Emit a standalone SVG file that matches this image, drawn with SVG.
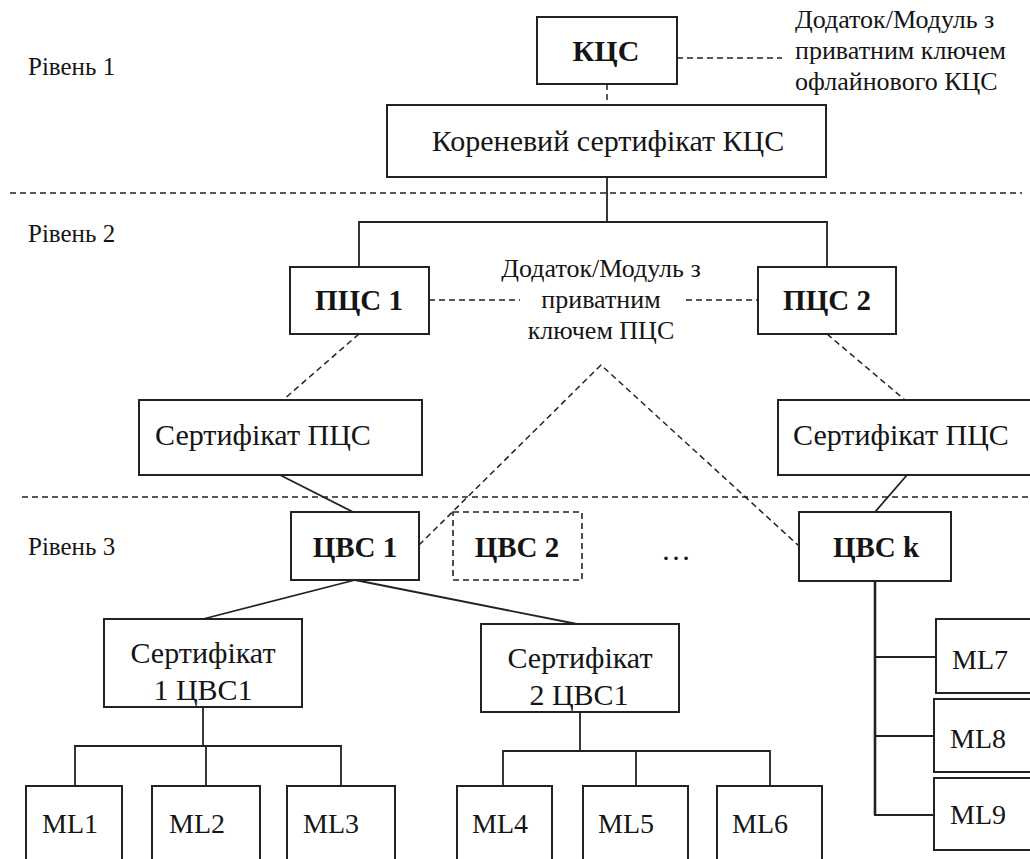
<svg xmlns="http://www.w3.org/2000/svg" width="1030" height="859" viewBox="0 0 1030 859">
<style>
  .box{fill:#fff;stroke:#222;stroke-width:2}
  .dbox{fill:#fff;stroke:#222;stroke-width:1.6;stroke-dasharray:6,4}
  .ln{fill:none;stroke:#222;stroke-width:1.8}
  .thick{fill:none;stroke:#222;stroke-width:2.6}
  .dl{fill:none;stroke:#222;stroke-width:1.5;stroke-dasharray:6,4}
  text{font-family:"Liberation Serif","Times New Roman",serif;fill:#151515}
  .t{font-size:30px}
  .b{font-size:29px;font-weight:bold;text-anchor:middle}
  .m{text-anchor:middle}
  .ann{font-size:26px}
  .lvl{font-size:25px}
  .ml{font-size:28px}
</style>
<rect width="1030" height="859" fill="#fff"/>
<g id="levels">
  <line class="dl" x1="10" y1="193" x2="1022" y2="193"/>
  <line class="dl" x1="22" y1="497" x2="1030" y2="497"/>
  <text class="lvl" x="28" y="75">Рівень 1</text>
  <text class="lvl" x="28" y="242">Рівень 2</text>
  <text class="lvl" x="28" y="555">Рівень 3</text>
</g>
<g id="connectors">
  <line class="dl" x1="677" y1="58" x2="782" y2="58"/>
  <line class="dl" x1="607" y1="84" x2="607" y2="105"/>
  <line class="ln" x1="607" y1="177" x2="607" y2="222"/>
  <polyline class="ln" points="359,267 359,222 827,222 827,267"/>
  <line class="dl" x1="429" y1="300" x2="520" y2="300"/>
  <line class="dl" x1="686" y1="300" x2="758" y2="300"/>
  <line class="dl" x1="359" y1="334" x2="283" y2="400"/>
  <line class="dl" x1="827" y1="334" x2="905" y2="400"/>
  <polyline class="dl" points="419,545 601,365 799,546"/>
  <line class="ln" x1="280" y1="475" x2="353" y2="512"/>
  <line class="ln" x1="907" y1="475" x2="875" y2="512"/>
  <line class="ln" x1="355" y1="580" x2="203" y2="619"/>
  <line class="ln" x1="355" y1="580" x2="577" y2="624"/>
  <line class="ln" x1="203" y1="707" x2="203" y2="746"/>
  <polyline class="ln" points="75,786 75,746 341,746 341,786"/>
  <line class="ln" x1="206" y1="746" x2="206" y2="786"/>
  <line class="ln" x1="580" y1="712" x2="580" y2="751"/>
  <polyline class="ln" points="503,786 503,751 770,751 770,786"/>
  <line class="ln" x1="636" y1="751" x2="636" y2="786"/>
  <line class="thick" x1="875" y1="581" x2="875" y2="815"/>
  <line class="ln" x1="875" y1="657" x2="936" y2="657"/>
  <line class="ln" x1="875" y1="736" x2="934" y2="736"/>
  <line class="ln" x1="874" y1="815" x2="934" y2="815"/>
</g>
<g id="kcs-annotation">
  <text class="ann" x="795" y="28">Додаток/Модуль з</text>
  <text class="ann" x="795" y="59">приватним ключем</text>
  <text class="ann" x="795" y="90">офлайнового КЦС</text>
</g>
<g id="pcs-annotation">
  <text class="ann m" x="601" y="277">Додаток/Модуль з</text>
  <text class="ann m" x="601" y="308">приватним</text>
  <text class="ann m" x="601" y="339">ключем ПЦС</text>
</g>
<g id="kcs"><rect class="box" x="537" y="17" width="140" height="67"/><text class="b" x="606" y="61" style="font-size:30px">КЦС</text></g>
<g id="root-cert"><rect class="box" x="387" y="105" width="439" height="72"/><text class="t m" x="608" y="151">Кореневий сертифікат КЦС</text></g>
<g id="pcs1"><rect class="box" x="290" y="267" width="139" height="67"/><text class="b" x="359" y="310">ПЦС 1</text></g>
<g id="pcs2"><rect class="box" x="758" y="267" width="138" height="67"/><text class="b" x="827" y="310">ПЦС 2</text></g>
<g id="pcs1-cert"><rect class="box" x="139" y="400" width="283" height="75"/><text class="t" x="155" y="445">Сертифікат ПЦС</text></g>
<g id="pcs2-cert"><rect class="box" x="778" y="400" width="266" height="75"/><text class="t" x="793" y="445">Сертифікат ПЦС</text></g>
<g id="cvs1"><rect class="box" x="291" y="512" width="128" height="68"/><text class="b" x="355" y="557">ЦВС 1</text></g>
<g id="cvs2"><rect class="dbox" x="453" y="512" width="129" height="68"/><text class="b" x="517" y="557">ЦВС 2</text></g>
<g id="dots"><text class="t m" x="676" y="560">…</text></g>
<g id="cvsk"><rect class="box" x="799" y="512" width="152" height="69"/><text class="b" x="876" y="557">ЦВС k</text></g>
<g id="cert1"><rect class="box" x="104" y="619" width="198" height="88"/><text class="t m" x="203" y="663">Сертифікат</text><text class="t m" x="203" y="700">1 ЦВС1</text></g>
<g id="cert2"><rect class="box" x="481" y="624" width="198" height="88"/><text class="t m" x="580" y="668">Сертифікат</text><text class="t m" x="579" y="705">2 ЦВС1</text></g>
<g id="ml1"><rect class="box" x="26" y="786" width="96" height="80"/><text class="ml" x="42" y="833">ML1</text></g>
<g id="ml2"><rect class="box" x="152" y="786" width="108" height="80"/><text class="ml" x="169" y="833">ML2</text></g>
<g id="ml3"><rect class="box" x="287" y="786" width="108" height="80"/><text class="ml" x="303" y="833">ML3</text></g>
<g id="ml4"><rect class="box" x="457" y="786" width="95" height="80"/><text class="ml" x="472" y="833">ML4</text></g>
<g id="ml5"><rect class="box" x="583" y="786" width="105" height="80"/><text class="ml" x="598" y="833">ML5</text></g>
<g id="ml6"><rect class="box" x="717" y="786" width="105" height="80"/><text class="ml" x="732" y="833">ML6</text></g>
<g id="ml7"><rect class="box" x="936" y="619" width="110" height="74"/><text class="ml" x="952" y="669">ML7</text></g>
<g id="ml8"><rect class="box" x="934" y="699" width="112" height="73"/><text class="ml" x="950" y="748">ML8</text></g>
<g id="ml9"><rect class="box" x="934" y="778" width="112" height="72"/><text class="ml" x="950" y="824">ML9</text></g>
</svg>
